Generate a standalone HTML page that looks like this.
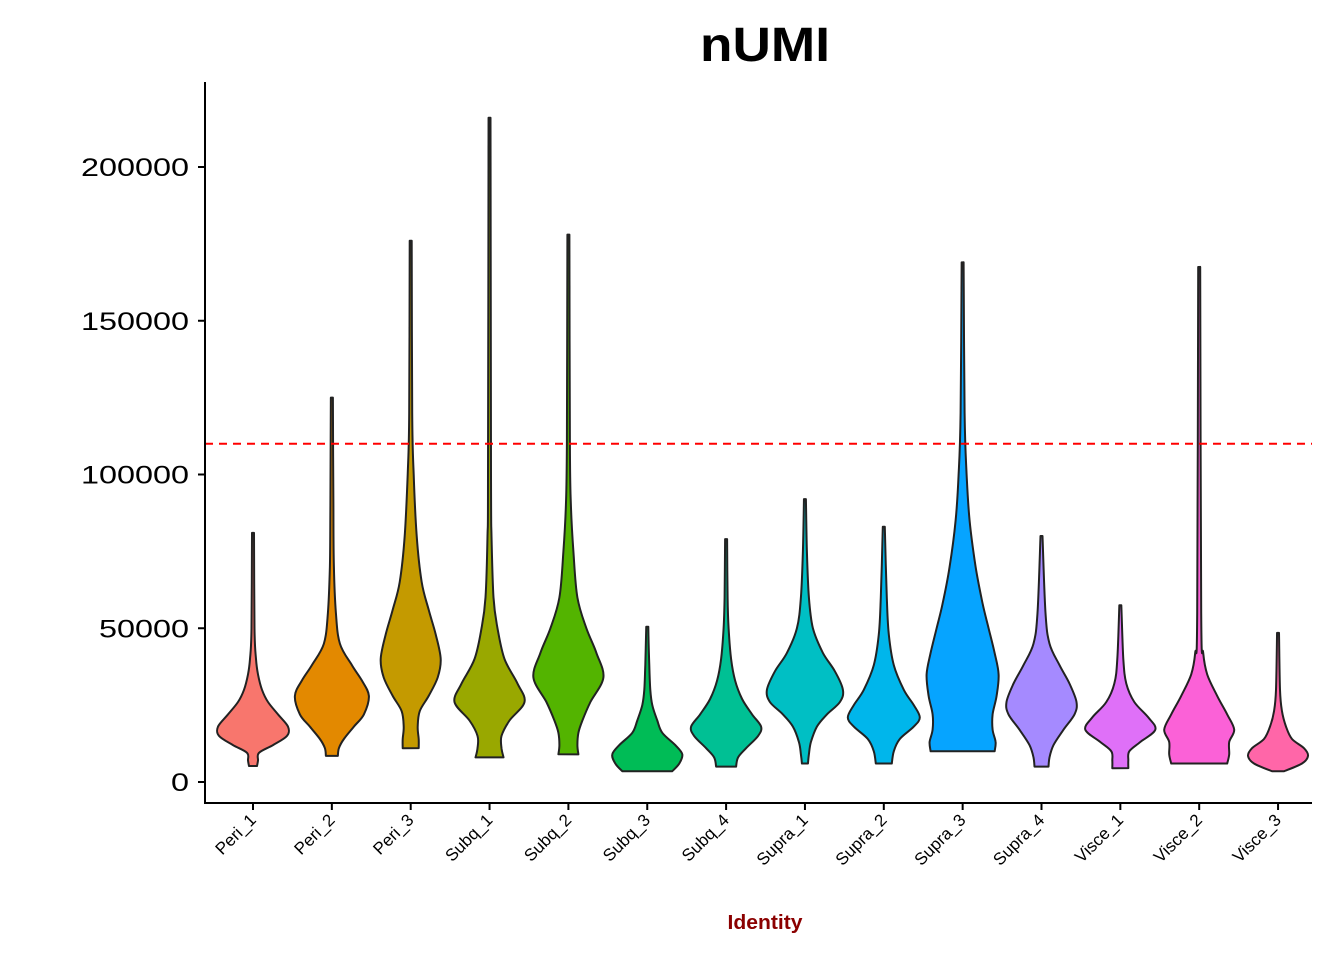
<!DOCTYPE html>
<html><head><meta charset="utf-8"><style>
html,body{margin:0;padding:0;background:#fff;}
svg{display:block;font-family:"Liberation Sans",Arial,sans-serif;}
</style></head><body>
<svg id="chart" width="1344" height="960">
<text x="765" y="61" text-anchor="middle" font-size="48" font-weight="bold" textLength="130" lengthAdjust="spacingAndGlyphs">nUMI</text>
<g id="plot"></g>
<text x="765" y="929" text-anchor="middle" font-size="20" font-weight="bold" fill="#8B0000" textLength="75" lengthAdjust="spacingAndGlyphs">Identity</text>
</svg>
<script>
const categories=["Peri_1","Peri_2","Peri_3","Subq_1","Subq_2","Subq_3","Subq_4","Supra_1","Supra_2","Supra_3","Supra_4","Visce_1","Visce_2","Visce_3"];
const colors=["#F8766D","#E38900","#C49A00","#99A800","#53B400","#00BC56","#00C094","#00BFC4","#00B6EB","#06A4FF","#A58AFF","#DF70F8","#FB61D7","#FF66A8"];
const yTicks=[0,50000,100000,150000,200000];
const threshold=110000;
// violin profiles: [nUMI value, relative half-width]
const profiles=[
[[5200,4],[7000,5],[9500,6],[12000,20],[15000,34],[18000,35],[22000,25],[26000,15],[30000,9],[35000,5],[40000,3],[50000,1.5],[81000,1]],
[[8500,6],[11000,7],[14000,12],[18000,22],[22000,32],[28000,37],[33000,30],[38000,20],[45000,8],[55000,4],[70000,2],[90000,1.5],[125000,1]],
[[11000,8],[14000,8],[18000,7],[23000,9],[28000,18],[34000,27],[40000,30],[48000,25],[56000,18],[65000,11],[80000,6],[100000,3],[120000,1.5],[176000,1]],
[[8000,14],[11000,12],[15000,12],[20000,20],[26000,35],[32000,28],[40000,15],[50000,8],[60000,4],[80000,2],[100000,1.5],[216000,1]],
[[9000,10],[12000,9],[16000,10],[20000,14],[26000,22],[34000,35],[42000,28],[50000,18],[60000,9],[75000,5],[90000,2.5],[110000,1.5],[178000,1]],
[[3500,25],[6000,32],[9000,35],[12000,28],[16000,15],[20000,10],[25000,5],[30000,3],[38000,2],[50500,1]],
[[5000,10],[8000,12],[11000,20],[15000,32],[18000,35],[22000,26],[27000,16],[33000,9],[40000,5],[50000,2.5],[60000,1.5],[79000,1]],
[[6000,3],[9000,4],[13000,6],[18000,12],[22000,22],[26000,35],[30000,38],[36000,30],[42000,18],[50000,8],[60000,4],[75000,2],[92000,1]],
[[6000,8],[10000,10],[14000,16],[18000,30],[21000,36],[25000,30],[30000,20],[38000,10],[48000,5],[60000,3],[83000,1]],
[[10000,32],[13000,33],[17000,30],[22000,30],[28000,34],[35000,36],[42000,32],[50000,26],[58000,20],[70000,13],[85000,7],[100000,4],[120000,2],[169000,1]],
[[5000,7],[8000,8],[12000,12],[17000,22],[22000,33],[26000,35],[32000,28],[38000,18],[45000,8],[55000,4],[80000,1]],
[[4500,8],[7000,8],[10000,9],[13000,20],[17000,35],[21000,28],[26000,14],[32000,6],[40000,3],[57500,1]],
[[6000,28],[9000,30],[13000,30],[17000,35],[22000,28],[28000,18],[35000,8],[42000,4],[55000,2],[167500,1]],
[[3500,6],[6000,24],[8500,30],[11000,26],[14000,14],[18000,8],[23000,4],[30000,2],[48500,1]]
];
const NS="http://www.w3.org/2000/svg";
const g=document.getElementById('plot');
const yScale=v=>782-v*0.003075;
const xScale=i=>253+i*78.85;
function mk(t,a){const e=document.createElementNS(NS,t);for(const k in a)e.setAttribute(k,a[k]);return e;}
function smooth(pts){let d=`M${pts[0][0]},${pts[0][1]}`;
 for(let i=0;i<pts.length-1;i++){const p0=pts[Math.max(0,i-1)],p1=pts[i],p2=pts[i+1],p3=pts[Math.min(pts.length-1,i+2)];
  const c1=[p1[0]+(p2[0]-p0[0])/6,p1[1]+(p2[1]-p0[1])/6],c2=[p2[0]-(p3[0]-p1[0])/6,p2[1]-(p3[1]-p1[1])/6];
  d+=` C${c1[0].toFixed(1)},${c1[1].toFixed(1)} ${c2[0].toFixed(1)},${c2[1].toFixed(1)} ${p2[0].toFixed(1)},${p2[1].toFixed(1)}`;}
 return d;}
profiles.forEach((prof,i)=>{
 const cx=xScale(i);
 const right=prof.map(p=>[cx+p[1],yScale(p[0])]);
 const left=prof.slice().reverse().map(p=>[cx-p[1],yScale(p[0])]);
 let d=smooth(right);
 d+=` L${cx},${yScale(prof[prof.length-1][0])} L${left[0][0]},${left[0][1]}`;
 d+=smooth(left).replace(/^M[^C]*/,' ');
 d+=' Z';
 const p=mk('path',{d:d,fill:colors[i],stroke:'#222','stroke-width':2,'stroke-linejoin':'round'});
 
 
 g.appendChild(p);
 const t=mk('line',{x1:cx,x2:cx,y1:803,y2:810,stroke:'#000','stroke-width':2});
 
 
 g.appendChild(t);
 const lb=mk('text',{x:cx+4,y:821,'text-anchor':'end','font-size':17,transform:`rotate(-45 ${cx+4} 821)`});
 lb.textContent=categories[i];
 
 
 g.appendChild(lb);
});
yTicks.forEach(v=>{
 const y=yScale(v);
 const t=mk('line',{x1:198,x2:205,y1:y,y2:y,stroke:'#000','stroke-width':2});
 
 
 g.appendChild(t);
 const s=String(v);
 const lb=mk('text',{x:189,y:y+9,'text-anchor':'end','font-size':25,textLength:s.length*18,lengthAdjust:'spacingAndGlyphs'});
 lb.textContent=s;
 
 
 g.appendChild(lb);
});
const th=mk('line',{x1:205,x2:1312,y1:yScale(threshold),y2:yScale(threshold),stroke:'#FF0000','stroke-width':2,'stroke-dasharray':'8,6'});


g.appendChild(th);
const ya=mk('line',{x1:205,x2:205,y1:82,y2:804,stroke:'#000','stroke-width':2});


g.appendChild(ya);
const xa=mk('line',{x1:204,x2:1312,y1:803,y2:803,stroke:'#000','stroke-width':2});


g.appendChild(xa);
</script>
</body></html>
